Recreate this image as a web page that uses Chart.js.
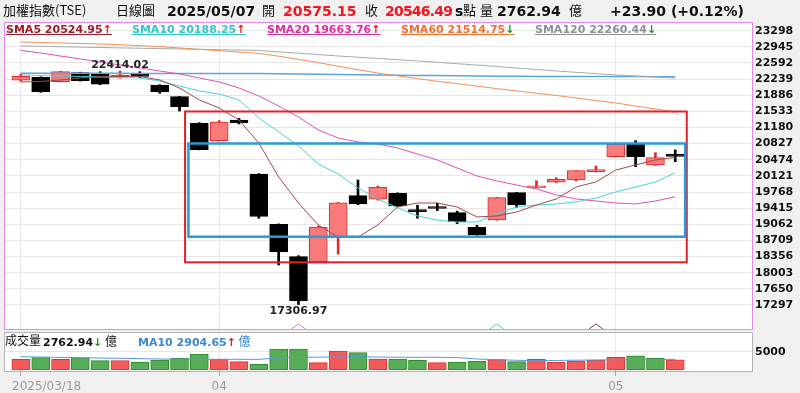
<!DOCTYPE html>
<html>
<head>
<meta charset="utf-8">
<script src="https://cdn.jsdelivr.net/npm/chart.js@4.4.1/dist/chart.umd.min.js"></script>
<style>
  body { margin: 0; background: #f0f0f0; }
  #wrap { position: relative; width: 800px; height: 393px; overflow: hidden; font-family: 'DejaVu Sans', sans-serif; color: #111; }
  #wrap canvas { position: absolute; left: 0; top: 0; }
  .t { position: absolute; white-space: nowrap; }
  .cjk { font-family: 'Noto Sans CJK TC', sans-serif; font-size: 13px; top: 1px; line-height: 18px; }
  .n { font-weight: bold; font-size: 14px; top: 2px; line-height: 18px; }
  .red { color: #ee1520; }
  .lg { top: 22px; font-size: 11px; font-weight: bold; line-height: 15px; text-decoration: underline; }
  .up { color: #e81818; }
  .dn { color: #1a9a1a; }
  .vl { top: 332px; line-height: 16px; }
</style>
</head>
<body>
<div id="wrap">
  <canvas id="c" width="800" height="393"></canvas>
  <div class="t cjk" style="left:3px">加權指數(TSE)</div>
  <div class="t cjk" style="left:116px">日線圖</div>
  <div class="t n" style="left:167px" id="hDate"></div>
  <div class="t cjk" style="left:262px">開</div>
  <div class="t n red" style="left:283px" id="hOpen"></div>
  <div class="t cjk" style="left:365px">收</div>
  <div class="t n red" style="left:385px;letter-spacing:-0.8px" id="hClose"></div>
  <div class="t n" style="left:455px">s</div>
  <div class="t cjk" style="left:463px">點</div>
  <div class="t cjk" style="left:480px">量</div>
  <div class="t n" style="left:497px" id="hVol"></div>
  <div class="t cjk" style="left:569px">億</div>
  <div class="t n" style="left:610px" id="hChg"></div>
  <div id="legend"></div>
  <div class="t vl cjk" style="left:5px;top:332px;font-size:12px">成交量</div>
  <div class="t vl" style="left:43px;font-size:11px;font-weight:bold" id="vVol"></div>
  <div class="t vl" style="left:138px;font-size:11px;font-weight:bold;color:#3a88cc" id="vMa"></div>
</div>
<script>
// trading days shown
const dates = ['2025/03/18','03/19','03/20','03/21','03/24','03/25','03/26','03/27','03/28','03/31',
  '04/01','04/02','04/07','04/08','04/09','04/10','04/11','04/14','04/15','04/16',
  '04/17','04/18','04/21','04/22','04/23','04/24','04/25','04/28','04/29','04/30',
  '05/02','05/05','05/06','2025/05/07'];
const xTickIdx = [0, 10, 30];
const xTickLabels = ['2025/03/18', '04', '05'];
const priceTicks = [23298,22945,22592,22239,21886,21533,21180,20827,20474,20121,19768,19415,19062,18709,18356,18003,17650,17297];
const volTicks = [5000];

const opens  = [22215,22278,22182,22379,22366,22280,22345,22110,21854,21272,20891,21344,20163,19062,18353,18244,18778,19688,19609,19740,19375,19440,19316,18996,19156,19754,19860,19981,20031,20213,20541,20812,20360,20575.15];
const highs  = [22350,22290,22410,22390,22401,22414.02,22400,22115,21860,21285,21330,21381,20170,19070,18375,19025,19540,20031,19900,19750,19480,19522,19350,19040,19650,19760,20016,20081,20240,20337,20820,20891,20629,20688];
const lows   = [22190,21950,22175,22195,22115,22258,22270,21928,21541,20690,20880,21257,19193,18172,17306.97,18230,18412,19490,19590,19450,19196,19360,19075,18820,19150,19434,19855,19975,20010,20205,20535,20322,20350,20432];
const closes = [22300,21963,22401,22204,22125,22300,22300,21963,21635,20696,21298,21285,19232,18460,17392,19000,19529,19506,19872,19462,19338,19408,19119,18828,19644,19484,19880,20046,20235,20250,20812,20541,20522.59,20546.49];

const sma5   = [22176,22187,22219,22263,22285,22296,22296,22219,22044,21782,21607,21344,20841,20097,19528,19047,18784,18784,19047,19441,19528,19528,19441,19222,19244,19331,19484,19616,19878,19988,20250,20360,20469,20524.95];
const sma10  = [22329,22318,22307,22296,22285,22274,22263,22198,22088,21979,21913,21782,21388,21082,20776,20382,20163,19856,19616,19419,19244,19156,19112,19112,19287,19441,19484,19506,19550,19637,19769,19878,19988,20188.25];
const sma20  = [22865,22810,22744,22679,22613,22548,22482,22416,22351,22263,22176,22044,21869,21650,21410,21125,20950,20863,20819,20731,20600,20469,20294,20119,20010,19922,19835,19704,19616,19572,19528,19506,19572,19663.76];
const sma60  = [23051,23040,23029,23018,23007,22990,22970,22950,22920,22890,22860,22830,22800,22740,22670,22600,22520,22445,22370,22310,22250,22190,22140,22085,22030,21980,21930,21880,21825,21770,21716,21650,21585,21514.75];
const sma120 = [22963,22955,22946,22938,22930,22922,22914,22906,22898,22890,22882,22874,22865,22835,22805,22775,22744,22717,22690,22663,22636,22606,22576,22545,22515,22482,22449,22416,22387,22358,22329,22306,22283,22260.44];
const refLine = [22366,22366,22365,22365,22364,22364,22363,22363,22362,22362,22361,22361,22360,22355,22350,22345,22340,22335,22330,22325,22320,22315,22310,22305,22300,22300,22298,22297,22296,22295,22294,22293,22292,22292];

const vols   = [2920,3360,2920,3360,2540,2540,2100,2730,3190,4370,2920,2270,1560,5730,5730,2000,5190,4730,3000,3000,2640,2000,2100,2370,2820,2270,2920,2100,2460,2730,3460,3900,3190,2762.94];
const volUp  = [1,0,1,0,0,1,0,0,0,0,1,1,0,0,0,1,1,0,1,0,0,1,0,0,1,0,1,1,1,1,1,0,0,1];
const volMa  = [3630,3550,3450,3350,3270,3200,3100,3000,2950,2920,2920,2920,2900,3300,3450,3500,3600,3640,3550,3470,3470,3470,3400,3000,2800,2650,2550,2600,2680,2730,2800,2870,2890,2904.65];

// boxes drawn on the chart: [x from, x to, price top, price bottom]
const redBox  = [8.28, 33.58, 21530, 18230];
const blueBox = [8.45, 33.5, 20830, 18790];
// small carets at the bottom of the price panel
const markIdx = [14, 24, 29];
const markColor = ['#e070c0', '#50d0d0', '#8a3c3c'];

const N = dates.length, last = N - 1;
const xy = arr => arr.map((v, i) => ({x: i, y: v}));
const isUp = i => closes[i] >= opens[i];

// ---- header text from the data ----
const arrow = arr => arr[last] >= arr[last - 1] ? '<span class="up">↑</span>' : '<span class="dn">↓</span>';
document.getElementById('hDate').textContent = dates[last];
document.getElementById('hOpen').textContent = opens[last].toFixed(2);
document.getElementById('hClose').textContent = closes[last].toFixed(2);
document.getElementById('hVol').textContent = vols[last].toFixed(2);
const chg = closes[last] - closes[last - 1];
document.getElementById('hChg').textContent =
  (chg >= 0 ? '+' : '') + chg.toFixed(2) + ' (' + (chg >= 0 ? '+' : '') + (chg / closes[last - 1] * 100).toFixed(2) + '%)';
document.getElementById('vVol').innerHTML = '<span style="color:#111">' + vols[last].toFixed(2) + '</span>' + arrow(vols) +
  '<span class="cjk" style="font-weight:normal;font-size:12px;color:#111"> 億</span>';
document.getElementById('vMa').innerHTML = 'MA10 ' + volMa[last].toFixed(2) + arrow(volMa) +
  '<span class="cjk" style="font-weight:normal;font-size:12px"> 億</span>';

const legendItems = [
  {name: 'SMA5',   data: sma5,   text: '#9c1c2c', line: '#a04a4a', left: 6},
  {name: 'SMA10',  data: sma10,  text: '#33c6cc', line: '#48d4d4', left: 132},
  {name: 'SMA20',  data: sma20,  text: '#e0309c', line: '#e050b8', left: 267},
  {name: 'SMA60',  data: sma60,  text: '#f07030', line: '#f29058', left: 401},
  {name: 'SMA120', data: sma120, text: '#909090', line: '#aaaaaa', left: 535}
];
document.getElementById('legend').innerHTML = legendItems.map(it =>
  `<div class="t lg" style="left:${it.left}px;color:${it.text}">${it.name} ${it.data[last].toFixed(2)}${arrow(it.data)}</div>`
).join('');

// ---- extra drawing: backgrounds, frames, boxes, hi/lo labels, carets, x labels ----
const decor = {
  id: 'decor',
  beforeDraw(chart) {
    const {ctx, chartArea: a, scales} = chart;
    ctx.save();
    ctx.fillStyle = '#f0f0f0';
    ctx.fillRect(0, 0, chart.width, chart.height);
    ctx.fillStyle = '#fff';
    ctx.fillRect(a.left, scales.y.top, a.right - a.left, scales.y.bottom - scales.y.top - 1);
    ctx.fillRect(a.left, scales.yv.top + 1, a.right - a.left, scales.yv.bottom - scales.yv.top);
    ctx.restore();
  },
  afterDatasetsDraw(chart) {
    const {ctx, scales: {x, y}} = chart;
    ctx.save();
    const rect = (b, color, w) => {
      ctx.strokeStyle = color;
      ctx.lineWidth = w;
      const x0 = x.getPixelForValue(b[0]), x1 = x.getPixelForValue(b[1]);
      const y0 = y.getPixelForValue(b[2]), y1 = y.getPixelForValue(b[3]);
      ctx.strokeRect(x0, y0, x1 - x0, y1 - y0);
    };
    rect(redBox, '#e4202a', 2);
    rect(blueBox, '#2a9ad8', 2.5);

    // highest high / lowest low labels
    const hi = highs.indexOf(Math.max(...highs));
    const lo = lows.indexOf(Math.min(...lows));
    ctx.font = 'bold 11px "DejaVu Sans"';
    ctx.fillStyle = '#222';
    ctx.textAlign = 'center';
    ctx.textBaseline = 'bottom';
    ctx.fillText(highs[hi].toFixed(2), x.getPixelForValue(hi), y.getPixelForValue(highs[hi]));
    ctx.textBaseline = 'top';
    ctx.fillText(lows[lo].toFixed(2), x.getPixelForValue(lo), y.getPixelForValue(lows[lo]) + 1);

    // carets
    ctx.lineWidth = 1;
    markIdx.forEach((m, k) => {
      const px = x.getPixelForValue(m), by = y.bottom - 2;
      ctx.strokeStyle = markColor[k];
      ctx.beginPath();
      ctx.moveTo(px - 7, by);
      ctx.lineTo(px, by - 5);
      ctx.lineTo(px + 7, by);
      ctx.stroke();
    });
    ctx.restore();
  },
  afterDraw(chart) {
    const {ctx, chartArea: a, scales: {x, y, yv}} = chart;
    ctx.save();
    ctx.lineWidth = 1;
    ctx.strokeStyle = '#e38ae3';
    ctx.strokeRect(a.left + 0.5, y.top + 0.5, a.right - a.left, y.bottom - y.top - 2);
    ctx.strokeStyle = '#b4b4b4';
    ctx.strokeRect(a.left + 0.5, yv.top + 1.5, a.right - a.left, yv.bottom - yv.top);

    ctx.font = '12px "DejaVu Sans"';
    ctx.fillStyle = '#9a9a9a';
    ctx.textBaseline = 'middle';
    ctx.textAlign = 'left';
    xTickIdx.forEach((v, k) => {
      const w = ctx.measureText(xTickLabels[k]).width;
      const lx = Math.max(x.getPixelForValue(v) - w / 2, a.left + 8);
      ctx.fillText(xTickLabels[k], lx, a.bottom + 17);
    });
    ctx.restore();
  }
};

const fixTicks = vals => scale => { scale.ticks = vals.map(v => ({value: v})); };
const tickFont = {family: 'DejaVu Sans', size: 11, weight: 'bold'};

new Chart(document.getElementById('c'), {
  data: {
    datasets: [
      {type: 'line', label: 'SMA5', data: xy(sma5), borderColor: legendItems[0].line, borderWidth: 1, pointRadius: 0, order: 0, yAxisID: 'y'},
      {type: 'line', label: 'SMA10', data: xy(sma10), borderColor: legendItems[1].line, borderWidth: 1, pointRadius: 0, order: 0, yAxisID: 'y'},
      {type: 'line', label: 'SMA20', data: xy(sma20), borderColor: legendItems[2].line, borderWidth: 1, pointRadius: 0, order: 0, yAxisID: 'y'},
      {type: 'line', label: 'SMA60', data: xy(sma60), borderColor: legendItems[3].line, borderWidth: 1, pointRadius: 0, order: 0, yAxisID: 'y'},
      {type: 'line', label: 'SMA120', data: xy(sma120), borderColor: legendItems[4].line, borderWidth: 1, pointRadius: 0, order: 0, yAxisID: 'y'},
      {type: 'line', label: 'ref', data: xy(refLine), borderColor: '#5ea6d6', borderWidth: 1.5, pointRadius: 0, order: 0, yAxisID: 'y'},
      {
        type: 'bar', label: 'body', yAxisID: 'y', order: 1, grouped: false,
        data: opens.map((o, i) => ({x: i, y: [o, closes[i]]})),
        barThickness: 18, minBarLength: 2, borderWidth: 1, borderSkipped: false,
        backgroundColor: c => isUp(c.dataIndex) ? '#f87a7a' : '#000',
        borderColor: c => isUp(c.dataIndex) ? '#e42a2a' : '#000'
      },
      {
        type: 'bar', label: 'wick', yAxisID: 'y', order: 2, grouped: false,
        data: lows.map((l, i) => ({x: i, y: [l, highs[i]]})),
        barThickness: 2, borderWidth: 0,
        backgroundColor: c => isUp(c.dataIndex) ? '#e42a2a' : '#000'
      },
      {
        type: 'bar', label: 'vol', yAxisID: 'yv', order: 2, grouped: false,
        data: xy(vols), barThickness: 18, borderWidth: 1, borderSkipped: false,
        backgroundColor: c => volUp[c.dataIndex] ? '#f55a5a' : '#56ad56',
        borderColor: c => volUp[c.dataIndex] ? '#d83434' : '#2f8a2f'
      },
      {type: 'line', label: 'volMa', data: xy(volMa), borderColor: '#5a9ad8', borderWidth: 1, pointRadius: 0, order: 0, yAxisID: 'yv'}
    ]
  },
  options: {
    responsive: false,
    animation: false,
    devicePixelRatio: 1,
    layout: {padding: {left: 4, top: 22, right: 0, bottom: 0}},
    plugins: {legend: {display: false}, tooltip: {enabled: false}},
    scales: {
      x: {
        type: 'linear', min: -0.85, max: 36.87, offset: false,
        afterBuildTicks: fixTicks(xTickIdx),
        afterFit: s => { s.height = 23; },
        ticks: {display: false},
        grid: {color: '#e9e9e9', tickColor: '#aaa', tickLength: 6, offset: false},
        border: {display: false}
      },
      y: {
        type: 'linear', position: 'right', stack: 'p', stackWeight: 309,
        min: 16727, max: 23488,
        afterBuildTicks: fixTicks(priceTicks),
        afterFit: s => { s.width = 48; },
        ticks: {font: tickFont, color: '#111', padding: 3, autoSkip: false, callback: v => String(v)},
        grid: {color: '#e6e6e6', drawTicks: false},
        border: {display: false}
      },
      yv: {
        type: 'linear', position: 'right', stack: 'p', stackWeight: 39,
        min: 0, max: 10650,
        afterBuildTicks: fixTicks(volTicks),
        afterFit: s => { s.width = 48; },
        ticks: {font: tickFont, color: '#111', padding: 3, autoSkip: false, callback: v => String(v)},
        grid: {color: '#e6e6e6', drawTicks: false},
        border: {display: false}
      }
    }
  },
  plugins: [decor]
});
</script>
</body>
</html>
